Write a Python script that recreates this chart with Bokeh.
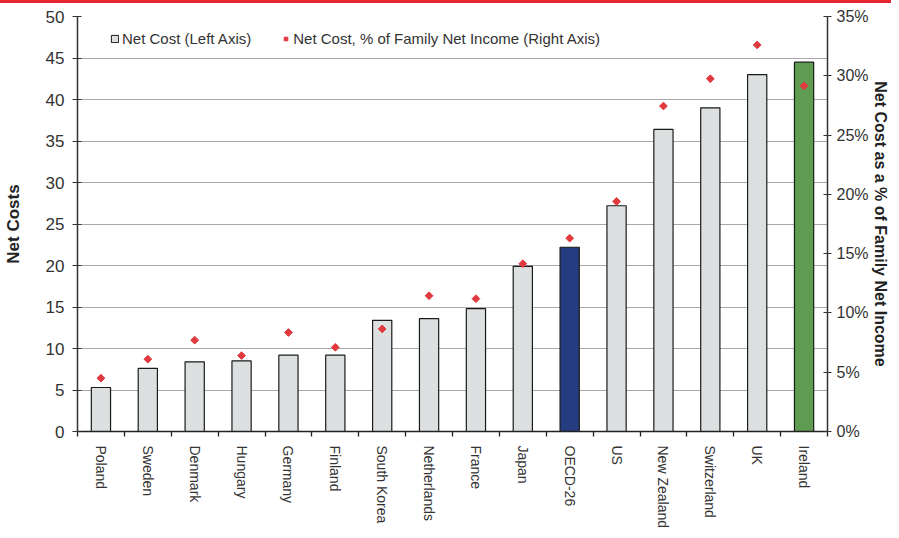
from bokeh.plotting import figure
from bokeh.layouts import column
from bokeh.models import (Range1d, LinearAxis, FixedTicker, PrintfTickFormatter,
                          Legend, LegendItem, ColumnDataSource, Grid, Div)
from bokeh.embed import file_html
from bokeh.resources import INLINE

countries = ["Poland", "Sweden", "Denmark", "Hungary", "Germany", "Finland",
             "South Korea", "Netherlands", "France", "Japan", "OECD-26", "US",
             "New Zealand", "Switzerland", "UK", "Ireland"]
net_cost = [5.3, 7.6, 8.4, 8.5, 9.2, 9.2, 13.4, 13.6, 14.8, 19.9, 22.2, 27.2,
            36.4, 39.0, 43.0, 44.5]
pct_income = [4.5, 6.1, 7.7, 6.4, 8.35, 7.1, 8.65, 11.45, 11.2, 14.15, 16.3,
              19.4, 27.45, 29.75, 32.6, 29.15]
left_ticks = [0, 5, 10, 15, 20, 25, 30, 35, 40, 45, 50]
right_ticks = [0, 5, 10, 15, 20, 25, 30, 35]

highlight = {"OECD-26": "#253C80", "Ireland": "#5F9B50"}
FONT = "Liberation Sans"

xpos = [i + 0.5 for i in range(len(countries))]
colors = [highlight.get(c, "#DDE0E0") for c in countries]
src = ColumnDataSource(dict(x=xpos, cost=net_cost, pct=pct_income, color=colors,
                            name=countries))

W = 891
band = Div(text="", width=W, height=3, margin=0,
           styles={"background-color": "#E8262D"})

p = figure(width=W, height=527, output_backend="svg", toolbar_location=None,
           x_range=Range1d(0, len(countries)), y_range=Range1d(0, 50),
           min_border_left=77, min_border_right=64, min_border_top=13,
           min_border_bottom=98, y_axis_location=None, margin=0)
p.outline_line_color = None
p.background_fill_color = "white"
p.border_fill_color = "white"

p.extra_y_ranges = {"pct": Range1d(0, 35)}

# left axis
la = LinearAxis(ticker=FixedTicker(ticks=left_ticks), axis_label="Net Costs")
la.axis_label_text_font = FONT
la.axis_label_text_font_style = "bold"
la.axis_label_text_font_size = "17px"
la.axis_label_text_color = "#222222"
la.major_label_text_font = FONT
la.major_label_text_font_size = "17px"
la.major_label_text_color = "#333333"
la.major_tick_in = 4
la.major_tick_out = 5
la.minor_tick_out = 0
la.minor_tick_in = 0
la.axis_line_color = "#333333"
la.axis_line_width = 1.5
la.major_tick_line_color = "#333333"
la.axis_label_standoff = 20
la.major_label_standoff = 8
p.add_layout(la, "left")

# right axis
ra = LinearAxis(y_range_name="pct", ticker=FixedTicker(ticks=right_ticks),
                formatter=PrintfTickFormatter(format="%d%%"),
                axis_label="Net Cost as a % of Family Net Income")
ra.axis_label_text_font = FONT
ra.axis_label_text_font_style = "bold"
ra.axis_label_text_font_size = "16px"
ra.axis_label_text_color = "#222222"
ra.major_label_text_font = FONT
ra.major_label_text_font_size = "16px"
ra.major_label_text_color = "#333333"
ra.major_tick_in = 4
ra.major_tick_out = 4
ra.minor_tick_out = 0
ra.minor_tick_in = 0
ra.axis_line_color = "#333333"
ra.axis_line_width = 1.5
ra.major_tick_line_color = "#333333"
ra.axis_label_standoff = 0
ra.major_label_standoff = 5
p.add_layout(ra, "right")

# bottom axis: labels at centres, tick marks between categories
xa = p.xaxis[0]
xa.ticker = FixedTicker(ticks=xpos, minor_ticks=list(range(len(countries) + 1)))
xa.major_label_overrides = {x: c for x, c in zip(xpos, countries)}
xa.major_label_orientation = "vertical"
xa.major_label_text_font = FONT
xa.major_label_text_font_size = "14px"
xa.major_label_text_color = "#333333"
xa.major_tick_in = 0
xa.major_tick_out = 0
xa.minor_tick_in = 0
xa.minor_tick_out = 5
xa.minor_tick_line_color = "#222222"
xa.minor_tick_line_width = 1.3
xa.axis_line_color = "#222222"
xa.axis_line_width = 1.5
xa.major_label_standoff = 9

p.xgrid.grid_line_color = None
p.ygrid.grid_line_color = None
g = Grid(dimension=1, ticker=FixedTicker(ticks=left_ticks), grid_line_color="#A8A8A8",
         grid_line_width=1.2)
p.add_layout(g)

bars = p.vbar(x="x", top="cost", width=0.41, bottom=0, source=src,
              fill_color="color", line_color="#1a1a1a", line_width=1.2)
dots = p.scatter(x="x", y="pct", y_range_name="pct", source=src, marker="square",
                 angle=0.785398, size=5.5, fill_color="#E03A3E", line_color="#E03A3E")

# legend proxies
lb = p.vbar(x=[-5], top=[1], width=0.4, fill_color="#DDE0E0", line_color="#1a1a1a",
            line_width=1)
legend = Legend(items=[LegendItem(label="Net Cost (Left Axis)", renderers=[lb]),
                       LegendItem(label="Net Cost, % of Family Net Income (Right Axis)",
                                  renderers=[dots])],
                orientation="horizontal", location=(33, 384))
legend.label_text_font = FONT
legend.label_text_font_size = "15px"
legend.label_text_color = "#333333"
legend.glyph_width = 9
legend.glyph_height = 9
legend.label_standoff = 3
legend.spacing = 30
legend.padding = 0
legend.margin = 0
legend.border_line_color = None
legend.background_fill_alpha = 0
p.add_layout(legend, "center")

layout = column(band, p, spacing=0)
open("out.html", "w").write(file_html(layout, INLINE))
